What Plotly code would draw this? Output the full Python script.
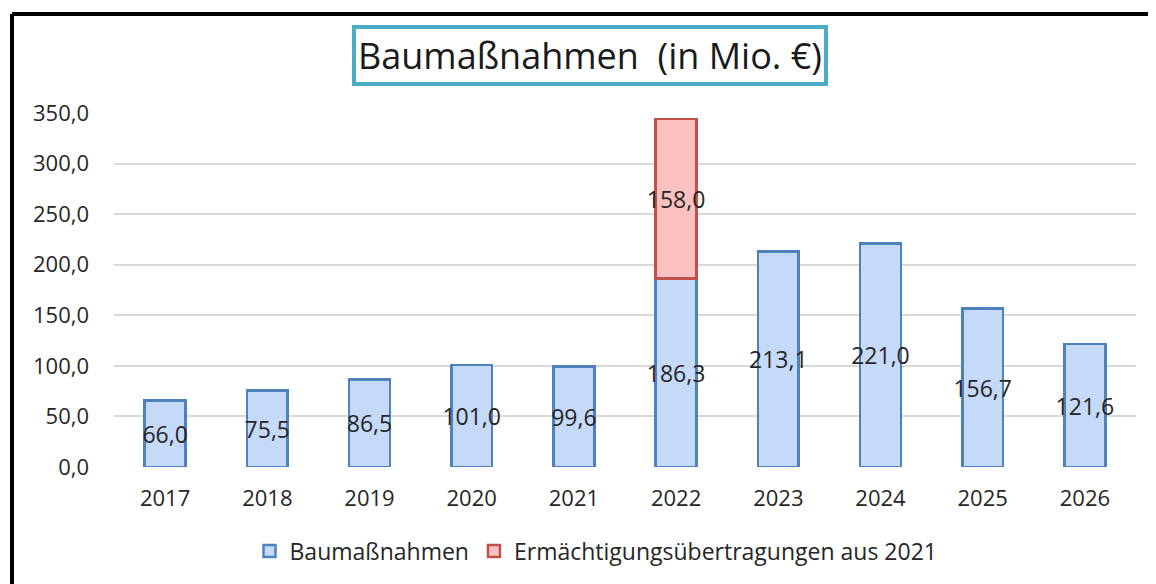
import plotly.graph_objects as go

years = ["2017", "2018", "2019", "2020", "2021", "2022", "2023", "2024", "2025", "2026"]
baumassnahmen = [66.0, 75.5, 86.5, 101.0, 99.6, 186.3, 213.1, 221.0, 156.7, 121.6]
ermaechtigung = [None, None, None, None, None, 158.0, None, None, None, None]
y_ticks = [0, 50, 100, 150, 200, 250, 300, 350]

# page offset (body margin of the html page)
O = 8
W, H = 1156 - O, 584 - O
L, R, T, B = 114 - O, 20, 113 - O, 117
PW, PH = W - L - R, H - T - B


def px(x):
    return (x - O - L) / PW


def py(y):
    return (H - B - (y - O)) / PH


FONT = "Open Sans"

fig = go.Figure()
fig.add_trace(go.Bar(
    x=years, y=baumassnahmen, name="Baumaßnahmen",
    marker=dict(color="#c5d9f8", line=dict(color="#4f81bd", width=2.5)),
    texttemplate="%{y:.1f}", textposition="inside", insidetextanchor="middle",
    constraintext="none", textangle=0,
    insidetextfont=dict(family=FONT, size=23, color="#262626"),
))
fig.add_trace(go.Bar(
    x=years, y=ermaechtigung, name="Ermächtigungsübertragungen aus 2021",
    marker=dict(color="#fbc1c1", line=dict(color="#c0504d", width=2.5)),
    texttemplate="%{y:.1f}", textposition="inside", insidetextanchor="middle",
    constraintext="none", textangle=0,
    insidetextfont=dict(family=FONT, size=23, color="#262626"),
))

fig.update_layout(
    width=W, height=H,
    margin=dict(l=L, r=R, t=T, b=B),
    barmode="stack", bargap=0.6,
    separators=",.",
    paper_bgcolor="white", plot_bgcolor="white",
    font=dict(family=FONT, size=22, color="#262626"),
    showlegend=True,
    legend=dict(orientation="h", x=px(596), xanchor="center", y=py(551), yanchor="middle",
                font=dict(family=FONT, size=23, color="#262626"), itemwidth=30,
                traceorder="normal"),
    xaxis=dict(showgrid=False, showline=False, ticks="", ticklabelstandoff=16,
               tickfont=dict(family=FONT, size=22, color="#262626")),
    yaxis=dict(range=[0, 350], tickvals=y_ticks, tickformat=".1f",
               showgrid=True, gridcolor="#d9d9d9", gridwidth=2,
               zeroline=False, showline=False, ticks="", ticklabelstandoff=24,
               tickfont=dict(family=FONT, size=22, color="#262626")),
    annotations=[dict(
        text="Baumaßnahmen  (in Mio. €)", xref="paper", yref="paper",
        x=px(590), y=py(56), xanchor="center", yanchor="middle", showarrow=False,
        font=dict(family=FONT, size=36, color="#1a1a1a"),
        bordercolor="#4bacc6", borderwidth=4, borderpad=2, bgcolor="white",
    )],
    shapes=[
        dict(type="line", xref="paper", yref="paper", x0=px(12), x1=px(1156), y0=py(14), y1=py(14),
             line=dict(color="black", width=4)),
        dict(type="line", xref="paper", yref="paper", x0=px(12), x1=px(12), y0=py(14), y1=py(584),
             line=dict(color="black", width=4)),
    ],
)

fig.write_html("out.html", config={"displayModeBar": False})
